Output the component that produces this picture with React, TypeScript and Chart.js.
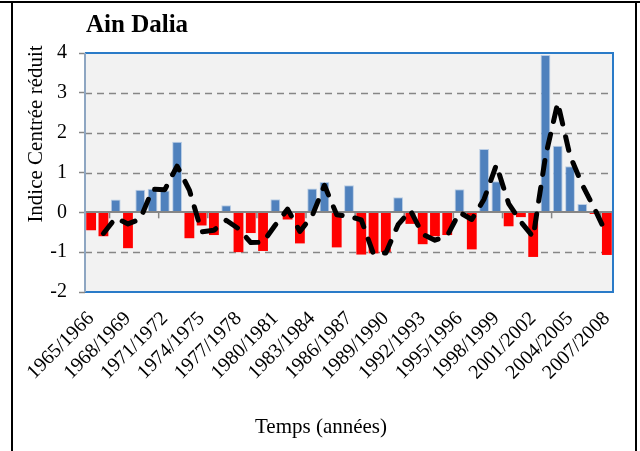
import React, { useEffect, useRef } from 'react';
import { Chart, registerables } from 'chart.js';

Chart.register(...registerables);

const SERIF = '"Liberation Serif", "Times New Roman", serif';

const categories = [
  '1965/1966', '1966/1967', '1967/1968', '1968/1969', '1969/1970', '1970/1971', '1971/1972',
  '1972/1973', '1973/1974', '1974/1975', '1975/1976', '1976/1977', '1977/1978', '1978/1979',
  '1979/1980', '1980/1981', '1981/1982', '1982/1983', '1983/1984', '1984/1985', '1985/1986',
  '1986/1987', '1987/1988', '1988/1989', '1989/1990', '1990/1991', '1991/1992', '1992/1993',
  '1993/1994', '1994/1995', '1995/1996', '1996/1997', '1997/1998', '1998/1999', '1999/2000',
  '2000/2001', '2001/2002', '2002/2003', '2003/2004', '2004/2005', '2005/2006', '2006/2007',
  '2007/2008',
];

const indexValues = [
  -0.45, -0.6, 0.32, -0.9, 0.57, 0.59, 0.55, 1.77, -0.65, -0.33,
  -0.57, 0.18, -1.0, -0.52, -0.97, 0.33, -0.18, -0.78, 0.6, 0.76,
  -0.88, 0.68, -1.06, -1.03, -1.0, 0.38, -0.29, -0.8, -0.6, -0.57,
  0.58, -0.93, 1.59, 0.78, -0.35, -0.12, -1.12, 3.95, 1.67, 1.16,
  0.21, -0.04, -1.07,
];

const movingAverage = [
  null, -0.53, -0.14, -0.29, -0.17, 0.58, 0.57, 1.16, 0.56, -0.49,
  -0.45, -0.2, -0.41, -0.76, -0.75, -0.32, 0.08, -0.48, -0.09, 0.68,
  -0.06, -0.1, -0.19, -1.05, -1.02, -0.31, 0.05, -0.55, -0.7, -0.59,
  0.0, -0.18, 0.33, 1.19, 0.22, -0.24, -0.62, 1.4, 2.75, 1.42,
  0.69, 0.09, -0.56,
];

const yMin = -2;
const yMax = 4;
const dashedGridValues = [3, 2, 1, -1];

const chartTitle = 'Ain Dalia';
const yTitle = 'Indice Centrée réduit';
const xTitle = 'Temps (années)';

const BLUE = '#4F81BD';
const RED = '#FF0000';

const decor = {
  id: 'decor',
  beforeDatasetsDraw(chart: any) {
    const { ctx, chartArea: a, scales } = chart;
    const y = scales.y;
    ctx.save();
    ctx.fillStyle = '#F2F2F2';
    ctx.fillRect(a.left, a.top, a.right - a.left, a.bottom - a.top);
    ctx.strokeStyle = '#868686';
    ctx.lineWidth = 1.5;
    ctx.setLineDash([7, 5]);
    for (const v of dashedGridValues) {
      const py = Math.round(y.getPixelForValue(v)) + 0.5;
      ctx.beginPath();
      ctx.moveTo(a.left, py);
      ctx.lineTo(a.right, py);
      ctx.stroke();
    }
    ctx.setLineDash([]);
    const y0 = y.getPixelForValue(0);
    const step = (a.right - a.left) / categories.length;
    ctx.lineWidth = 1.5;
    for (let k = 2; k <= categories.length; k += 4) {
      const px = a.left + k * step;
      ctx.beginPath();
      ctx.moveTo(px, y0);
      ctx.lineTo(px, y0 + 6);
      ctx.stroke();
    }
    ctx.restore();
  },
  afterDatasetDraw(chart: any, args: any) {
    if (args.index !== 0) return;
    const { ctx, chartArea: a, scales } = chart;
    const y0 = Math.round(scales.y.getPixelForValue(0));
    ctx.save();
    ctx.strokeStyle = '#868686';
    ctx.lineWidth = 2;
    ctx.beginPath();
    ctx.moveTo(a.left, y0);
    ctx.lineTo(a.right, y0);
    ctx.stroke();
    ctx.restore();
  },
  afterDraw(chart: any) {
    const { ctx, chartArea: a } = chart;
    ctx.save();
    ctx.strokeStyle = '#2A7BC8';
    ctx.lineWidth = 2;
    ctx.beginPath();
    ctx.moveTo(a.left, a.top);
    ctx.lineTo(a.right, a.top);
    ctx.lineTo(a.right, a.bottom);
    ctx.lineTo(a.left, a.bottom);
    ctx.stroke();
    ctx.strokeStyle = '#8EA6C2';
    ctx.beginPath();
    ctx.moveTo(a.left, a.top);
    ctx.lineTo(a.left, a.bottom);
    ctx.stroke();
    ctx.fillStyle = '#000';
    ctx.font = `bold 25px ${SERIF}`;
    ctx.textAlign = 'left';
    ctx.textBaseline = 'alphabetic';
    ctx.fillText(chartTitle, 86, 32);
    ctx.font = `21px ${SERIF}`;
    ctx.textAlign = 'center';
    ctx.fillText(xTitle, 321, 433);
    ctx.save();
    ctx.translate(36, 134);
    ctx.rotate(-Math.PI / 2);
    ctx.textBaseline = 'middle';
    ctx.fillText(yTitle, 0, 0);
    ctx.restore();
    ctx.strokeStyle = '#000';
    ctx.lineWidth = 2;
    ctx.beginPath();
    ctx.moveTo(0, 2);
    ctx.lineTo(640, 2);
    ctx.moveTo(12, 2);
    ctx.lineTo(12, 451);
    ctx.moveTo(636, 2);
    ctx.lineTo(636, 451);
    ctx.stroke();
    ctx.restore();
  },
};

export default function App() {
  const ref = useRef<HTMLCanvasElement | null>(null);

  useEffect(() => {
    if (!ref.current) return;
    const chart = new Chart(ref.current, {
      data: {
        labels: categories,
        datasets: [
          {
            type: 'bar',
            data: indexValues,
            backgroundColor: indexValues.map((v) => (v >= 0 ? BLUE : RED)),
            borderColor: indexValues.map((v) => (v >= 0 ? '#B9CDE5' : RED)),
            borderWidth: indexValues.map((v) => (v >= 0 ? 1 : 0)),
            barPercentage: 0.8,
            categoryPercentage: 1,
            order: 2,
          },
          {
            type: 'line',
            data: movingAverage,
            borderColor: '#000',
            borderWidth: 5,
            borderDash: [14, 13],
            borderCapStyle: 'round',
            borderJoinStyle: 'round',
            pointRadius: 0,
            tension: 0,
            spanGaps: false,
            order: 1,
          },
        ],
      } as any,
      options: {
        responsive: false,
        maintainAspectRatio: false,
        animation: false,
        devicePixelRatio: 1,
        layout: { padding: { left: 0, right: 27, top: 53, bottom: 0 } },
        plugins: {
          legend: { display: false },
          tooltip: { enabled: false },
          title: { display: false },
        },
        scales: {
          x: {
            offset: true,
            grid: { display: false },
            border: { display: false },
            ticks: {
              autoSkip: false,
              maxRotation: 45,
              minRotation: 45,
              padding: 7,
              color: '#000',
              font: { family: SERIF, size: 20 },
              callback: (_v: any, i: number) => (i % 3 === 0 ? categories[i] : ''),
            },
            afterFit: (s: any) => {
              s.height = 159;
            },
          },
          y: {
            min: yMin,
            max: yMax,
            ticks: {
              stepSize: 1,
              padding: 12,
              color: '#000',
              font: { family: SERIF, size: 20 },
            },
            grid: {
              drawOnChartArea: false,
              drawTicks: true,
              tickLength: 6,
              tickColor: '#868686',
              tickWidth: 1.5,
            },
            border: { display: false },
            afterFit: (s: any) => {
              s.width = 85;
            },
          },
        },
      } as any,
      plugins: [decor],
    });
    return () => chart.destroy();
  }, []);

  return (
    <div style={{ position: 'fixed', left: 0, top: 0, width: 640, height: 451, background: '#fff' }}>
      <canvas ref={ref} width={640} height={451} style={{ display: 'block' }} />
    </div>
  );
}
